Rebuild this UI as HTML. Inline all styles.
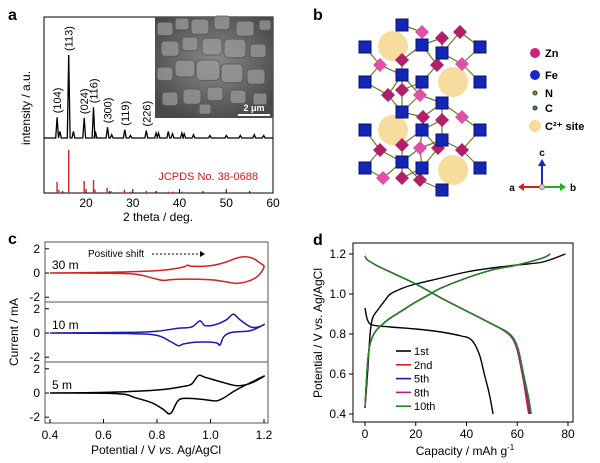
<!DOCTYPE html>
<html><head><meta charset="utf-8"><style>
body{margin:0;background:#fff}
svg{display:block;font-family:"Liberation Sans",Arial,sans-serif}
</style></head><body>
<svg id="fig" width="600" height="463" viewBox="0 0 600 463" xmlns="http://www.w3.org/2000/svg">
<defs>
<radialGradient id="semg" cx="50%" cy="45%" r="60%"><stop offset="0" stop-color="#8a8a8a"/><stop offset="1" stop-color="#4a4a4a"/></radialGradient>
</defs>
<g id="pa"></g>
<g id="pb"></g>
<g id="pc"></g>
<g id="pd"></g>
</svg>
<script>
// ---------- Panel a data ----------
const xrdPos = [13.8,14.4,16.3,17.3,19.6,21.6,22.0,24.6,25.5,28.3,29.5,32.9,35.0,35.5,37.6,38.5,40.5,41.0,43.0,46.5,50.0,53.0,56.0,58.0];
const xrdInt = [25,8,100,8,24,37,8,13,4,10,3,9,6,6,8,5,6,5,4,3,3,3,4,3];
const refPos = [13.8,14.2,16.3,19.6,21.6,21.9,24.5,25.4,28.2,29.5,32.9,35.0,37.6,38.5,40.5];
const refInt = [26,7,100,28,30,8,12,4,8,3,5,4,3,3,3];
const hklLabels = ["(104)","(113)","(024)","(116)","(300)","(119)","(226)"];
const hklPos = [13.8,16.3,19.6,21.6,24.6,28.3,32.9];
const hklInt = [25,100,24,37,13,10,9];
const aTicks = [20,30,40,50,60];
// ---------- Panel c data ----------
const cvV30u=[0.4,0.6,0.7,0.8,0.85,0.9,0.915,0.93,1.0,1.05,1.1,1.13,1.16,1.19,1.2];
const cvI30u=[0,0.05,0.1,0.2,0.3,0.5,0.65,0.55,0.6,0.85,1.25,1.35,1.2,0.75,0.5];
const cvV30l=[1.2,1.18,1.15,1.1,1.05,1.0,0.9,0.85,0.82,0.78,0.72,0.6,0.4];
const cvI30l=[0.5,-0.2,-0.6,-0.85,-0.7,-0.55,-0.5,-0.55,-0.6,-0.4,-0.1,-0.02,0];
const cvV10u=[0.4,0.7,0.8,0.88,0.93,0.96,0.98,1.02,1.06,1.085,1.11,1.15,1.18,1.2];
const cvI10u=[0,0.05,0.15,0.4,0.5,1.0,0.6,0.7,1.1,1.55,1.1,0.5,0.5,0.7];
const cvV10l=[1.2,1.15,1.08,1.05,1.035,1.02,0.95,0.9,0.88,0.85,0.8,0.7,0.4];
const cvI10l=[0.7,0.2,0.05,-0.3,-1.0,-0.8,-0.75,-0.9,-1.05,-0.7,-0.2,-0.05,0];
const cvV5u=[0.4,0.6,0.8,0.9,0.93,0.955,0.98,1.05,1.1,1.15,1.2];
const cvI5u=[0,0.05,0.25,0.55,0.75,1.45,1.3,0.85,0.6,0.8,1.4];
const cvV5l=[1.2,1.1,1.05,1.02,0.98,0.92,0.88,0.85,0.82,0.78,0.72,0.65,0.4];
const cvI5l=[1.4,0.3,-0.4,-0.65,-0.55,-0.45,-0.6,-1.7,-1.3,-0.8,-0.4,-0.05,0];
const cTicks=[0.4,0.6,0.8,1.0,1.2];
const cYTicks=[-2,0,2];
// ---------- Panel d data ----------
const gcdNames=["1st","2nd","5th","8th","10th"];
const gcdColors=["#000","#d42020","#1a1ab0","#a0208a","#178a17"];
const chgCap1=[0,1,2,3,5,8,10,15,20,30,40,50,60,70,79];
const chgV1=[0.43,0.6,0.8,0.88,0.92,0.97,1.0,1.03,1.05,1.08,1.11,1.13,1.145,1.16,1.2];
const disCap1=[0,1,3,10,20,30,38,42,45,47,49,50.5];
const disV1=[0.93,0.87,0.845,0.835,0.825,0.81,0.79,0.77,0.7,0.6,0.5,0.4];
const chgCapN=[0,1,2,4,7,10,15,20,25,30,40,50,60,70,73];
const chgVN=[0.43,0.65,0.75,0.81,0.85,0.88,0.92,0.96,0.995,1.03,1.08,1.12,1.145,1.18,1.2];
const disCap2=[0,1,5,10,20,30,40,50,55,58,60,62,63.5,64.5];
const disCap5=[0,1,5,10,20,30,40,50,55,58,60,62,64,65];
const disCap8=[0,1,5,10,20,30,40,50,55,58,60,62,64,65.2];
const disCap10=[0,1,5,10,20,30,40,50,55.5,58.5,60.5,62.5,64.5,65.5];
const disVN=[1.19,1.17,1.14,1.11,1.05,0.98,0.915,0.85,0.815,0.78,0.72,0.6,0.48,0.4];
const dXTicks=[0,20,40,60,80];
const dYTicks=[0.4,0.6,0.8,1.0,1.2];

const NS="http://www.w3.org/2000/svg";
function mk(parent,tag,attrs,txt){const e=document.createElementNS(NS,tag);for(const k in attrs)e.setAttribute(k,attrs[k]);if(txt!==undefined)e.textContent=txt;parent.appendChild(e);return e;}
function lin(d0,d1,r0,r1){return v=>r0+(v-d0)*(r1-r0)/(d1-d0);}
function pts(xs,ys,fx,fy){return xs.map((x,i)=>fx(x).toFixed(1)+","+fy(ys[i]).toFixed(1)).join(" ");}
function smooth(xs,ys,fx,fy){const P=xs.map((x,i)=>[fx(x),fy(ys[i])]);let d="M"+P[0][0].toFixed(1)+","+P[0][1].toFixed(1);
for(let i=0;i<P.length-1;i++){const p0=P[Math.max(i-1,0)],p1=P[i],p2=P[i+1],p3=P[Math.min(i+2,P.length-1)];
const c1=[p1[0]+(p2[0]-p0[0])/6,p1[1]+(p2[1]-p0[1])/6],c2=[p2[0]-(p3[0]-p1[0])/6,p2[1]-(p3[1]-p1[1])/6];
d+=` C${c1[0].toFixed(1)},${c1[1].toFixed(1)} ${c2[0].toFixed(1)},${c2[1].toFixed(1)} ${p2[0].toFixed(1)},${p2[1].toFixed(1)}`;}return d;}

// ===== Panel a =====
(function(){
const g=document.getElementById('pa');
const X=lin(10,60,39.3,273), x0=44,x1=273,y0=17,y1=193;
let t=mk(g,'text',{x:8,y:20,'font-size':16,'font-weight':'bold'},'a');

let r=mk(g,'rect',{x:x0,y:y0,width:x1-x0,height:y1-y0,fill:'none',stroke:'#000','stroke-width':1});

const ins=mk(g,'g',{});

mk(ins,'rect',{x:155,y:17,width:118,height:101,fill:'url(#semg)'});
const blobs=[[165,30,8],[182,25,7],[200,28,9],[222,24,8],[245,30,9],[265,26,6],[170,50,9],[190,45,8],[212,48,10],[235,50,11],[258,52,8],[165,75,8],[185,70,10],[208,72,12],[232,75,11],[256,78,9],[170,100,8],[192,98,9],[215,95,8],[238,98,8],[260,100,7],[205,110,6]];
blobs.forEach(b=>mk(ins,'rect',{x:b[0]-b[2],y:b[1]-b[2],width:2*b[2],height:2*b[2]*0.85,rx:b[2]*0.4,fill:'#9a9a9a',stroke:'#555','stroke-width':1,opacity:0.75}));
mk(ins,'line',{x1:238,y1:115,x2:270,y2:115,stroke:'#fff','stroke-width':2});
t=mk(ins,'text',{x:254,y:111,'font-size':9,fill:'#fff','text-anchor':'middle','font-weight':'bold'},'2 μm');

const base=138,sc=0.83;
let xs=[],ys=[];
xs.push(11);ys.push(0);
xrdPos.forEach((p,i)=>{xs.push(p-0.3,p,p+0.3);ys.push(0,xrdInt[i],0);});
xs.push(60);ys.push(0);
let pl=mk(g,'polyline',{points:xs.map((x,i)=>X(x).toFixed(1)+","+(base-ys[i]*sc).toFixed(1)).join(" "),fill:'none',stroke:'#000','stroke-width':1.3});

refPos.forEach((p,i)=>{const l=mk(g,'line',{x1:X(p),x2:X(p),y1:y1,y2:y1-refInt[i]*0.43,stroke:'#d42020','stroke-width':1.4});
});
hklLabels.forEach((h,i)=>{const x=X(hklPos[i])+4,y=base-hklInt[i]*sc-4;
const tt=mk(g,'text',{x:x,y:y,'font-size':11,transform:`rotate(-90 ${x} ${y})`},h);
});
t=mk(g,'text',{x:258,y:180,'font-size':11,fill:'#c81e1e','text-anchor':'end'},'JCPDS No. 38-0688');

aTicks.forEach(v=>{mk(g,'line',{x1:X(v),x2:X(v),y1:y1,y2:y1-4,stroke:'#000'});
const tt=mk(g,'text',{x:X(v),y:y1+14,'font-size':12,'text-anchor':'middle'},v);
});
[15,25,35,45,55].forEach(v=>mk(g,'line',{x1:X(v),x2:X(v),y1:y1,y2:y1-2,stroke:'#000'}));
t=mk(g,'text',{x:158,y:221,'font-size':12,'text-anchor':'middle'},'2 theta / deg.');

t=mk(g,'text',{x:30,y:108,'font-size':12,'text-anchor':'middle',transform:'rotate(-90 30 108)'},'intensity / a.u.');

})();

// ===== Panel b =====
(function(){
const g=document.getElementById('pb');
let t=mk(g,'text',{x:313,y:20,'font-size':16,'font-weight':'bold'},'b');

const yel=[[393,46],[453,82],[393,130],[453,170]];
const bl=[[402,25],[365,47],[422,45],[442,53],[480,47],[365,82],[402,75],[422,82],[480,82],[402,112],[442,103],[365,130],[422,130],[442,140],[480,130],[365,168],[402,162],[422,168],[480,168],[442,190]];
const pk=[[422,32],[442,38],[460,32],[380,65],[402,60],[437,65],[462,64],[388,95],[402,90],[420,95],[423,117],[442,120],[462,117],[380,150],[402,145],[420,148],[438,148],[462,150],[383,178],[402,178],[420,180]];
const lk=mk(g,'g',{stroke:'#6a7a2a','stroke-width':1.2});

bl.forEach(b=>{pk.forEach(p=>{const d=Math.hypot(b[0]-p[0],b[1]-p[1]);if(d<28)mk(lk,'line',{x1:b[0],y1:b[1],x2:p[0],y2:p[1]});});});
yel.forEach(c=>{const e=mk(g,'circle',{cx:c[0],cy:c[1],r:15,fill:'#f8dc9e'});
});
pk.forEach((p,i)=>{const e=mk(g,'polygon',{points:`${p[0]},${p[1]-7} ${p[0]+7},${p[1]} ${p[0]},${p[1]+7} ${p[0]-7},${p[1]}`,fill:i%3?'#b0206a':'#e050a8'});
});
bl.forEach(b=>{const e=mk(g,'rect',{x:b[0]-6,y:b[1]-6,width:12,height:12,fill:'#1426b4',stroke:'#0a1270'});
});
const leg=[['Zn','#d0207a',5],['Fe','#1a28c8',5],['N','#a09020',2],['C','#20a020',2],['C²⁺ site','#f8dc9e',6]];
const ly=[53,75,93,108,126];
leg.forEach((l,i)=>{const c=mk(g,'circle',{cx:535,cy:ly[i],r:l[2],fill:l[1],stroke:l[2]<3?'#333':'none'});

const tt=mk(g,'text',{x:545,y:ly[i]+4,'font-size':11,'font-weight':'bold'},l[0]);
});
const ax=mk(g,'g',{});
mk(ax,'line',{x1:542,y1:187,x2:542,y2:165,stroke:'#1a28c8','stroke-width':2});
mk(ax,'polygon',{points:'538,166 546,166 542,159',fill:'#1a28c8'});
mk(ax,'line',{x1:542,y1:187,x2:524,y2:187,stroke:'#d02020','stroke-width':2});
mk(ax,'polygon',{points:'524,183 524,191 518,187',fill:'#d02020'});
mk(ax,'line',{x1:542,y1:187,x2:560,y2:187,stroke:'#20b020','stroke-width':2});
mk(ax,'polygon',{points:'560,183 560,191 566,187',fill:'#20b020'});
mk(ax,'circle',{cx:542,cy:187,r:2.5,fill:'#ccc',stroke:'#888'});
mk(ax,'text',{x:542,y:156,'font-size':10,'font-weight':'bold','text-anchor':'middle'},'c');
mk(ax,'text',{x:512,y:191,'font-size':10,'font-weight':'bold','text-anchor':'middle'},'a');
mk(ax,'text',{x:573,y:191,'font-size':10,'font-weight':'bold','text-anchor':'middle'},'b');
})();

// ===== Panel c =====
(function(){
const g=document.getElementById('pc');
const X=lin(0.4,1.2,50,264), x0=45,x1=268;
let t=mk(g,'text',{x:8,y:244,'font-size':16,'font-weight':'bold'},'c');

const subs=[{top:242,bot:302,zero:273,c:'#d42020',l:'30 m',u:[cvV30u,cvI30u],lo:[cvV30l,cvI30l]},
{top:302,bot:362,zero:333,c:'#1a1ab0',l:'10 m',u:[cvV10u,cvI10u],lo:[cvV10l,cvI10l]},
{top:362,bot:423,zero:393,c:'#000',l:'5 m',u:[cvV5u,cvI5u],lo:[cvV5l,cvI5l]}];
subs.forEach(s=>{
const Y=v=>s.zero-v*12.1;
const r=mk(g,'rect',{x:x0,y:s.top,width:x1-x0,height:s.bot-s.top,fill:'none',stroke:'#555','stroke-width':1});

cYTicks.forEach(v=>{mk(g,'line',{x1:x0,x2:x0+4,y1:Y(v),y2:Y(v),stroke:'#000'});
const tt=mk(g,'text',{x:x0-5,y:Y(v)+4,'font-size':12,'text-anchor':'end'},v);
});
const xs=s.u[0].concat(s.lo[0].slice(1)),ys=s.u[1].concat(s.lo[1].slice(1));
const pl=mk(g,'path',{d:smooth(xs,ys,X,Y),fill:'none',stroke:s.c,'stroke-width':1.5,'stroke-linejoin':'round'});

const tt=mk(g,'text',{x:52,y:s.zero-4,'font-size':12},s.l);

});
cTicks.forEach(v=>{mk(g,'line',{x1:X(v),x2:X(v),y1:423,y2:419,stroke:'#000'});
const tt=mk(g,'text',{x:X(v),y:439,'font-size':12,'text-anchor':'middle'},v.toFixed(1));
});
t=mk(g,'text',{x:88,y:257,'font-size':10},'Positive shift');

mk(g,'line',{x1:152,y1:254,x2:200,y2:254,stroke:'#000','stroke-dasharray':'2,2'});
mk(g,'polygon',{points:'200,251 205,254 200,257',fill:'#000'});
t=mk(g,'text',{x:156,y:454,'font-size':12,'text-anchor':'middle'});
t.innerHTML='Potential / V <tspan font-style="italic">vs.</tspan> Ag/AgCl';

t=mk(g,'text',{x:18,y:332,'font-size':12,'text-anchor':'middle',transform:'rotate(-90 18 332)'},'Current / mA');

})();

// ===== Panel d =====
(function(){
const g=document.getElementById('pd');
const X=lin(0,80,365,568),Y=lin(0.4,1.2,414,254),x0=353,x1=573,y0=243,y1=422;
let t=mk(g,'text',{x:313,y:245,'font-size':16,'font-weight':'bold'},'d');

const r=mk(g,'rect',{x:x0,y:y0,width:x1-x0,height:y1-y0,fill:'none',stroke:'#000'});

dXTicks.forEach(v=>{mk(g,'line',{x1:X(v),x2:X(v),y1:y1,y2:y1+4,stroke:'#000'});
const tt=mk(g,'text',{x:X(v),y:y1+16,'font-size':12,'text-anchor':'middle'},v);
});
dYTicks.forEach(v=>{mk(g,'line',{x1:x0,x2:x0-4,y1:Y(v),y2:Y(v),stroke:'#000'});
const tt=mk(g,'text',{x:x0-7,y:Y(v)+4,'font-size':12,'text-anchor':'end'},v.toFixed(1));
});
const chg=[[chgCap1,chgV1],[chgCapN,chgVN],[chgCapN,chgVN],[chgCapN,chgVN],[chgCapN,chgVN]];
const dis=[[disCap1,disV1],[disCap2,disVN],[disCap5,disVN],[disCap8,disVN],[disCap10,disVN]];
gcdNames.forEach((n,i)=>{
const a=mk(g,'path',{d:smooth(chg[i][0],chg[i][1],X,Y),fill:'none',stroke:gcdColors[i],'stroke-width':1.4});

const b=mk(g,'path',{d:smooth(dis[i][0],dis[i][1],X,Y),fill:'none',stroke:gcdColors[i],'stroke-width':1.4});

const ly=351+i*13.8;
const l=mk(g,'line',{x1:396,x2:411,y1:ly,y2:ly,stroke:gcdColors[i],'stroke-width':1.6});

const tt=mk(g,'text',{x:414,y:ly+4,'font-size':11},n);

});
t=mk(g,'text',{x:465,y:455,'font-size':12,'text-anchor':'middle'});
t.innerHTML='Capacity / mAh g<tspan dy="-5" font-size="8">-1</tspan>';

t=mk(g,'text',{x:322,y:333,'font-size':12,'text-anchor':'middle',transform:'rotate(-90 322 333)'},'Potential / V vs. Ag/AgCl');

})();
</script>
</body></html>
